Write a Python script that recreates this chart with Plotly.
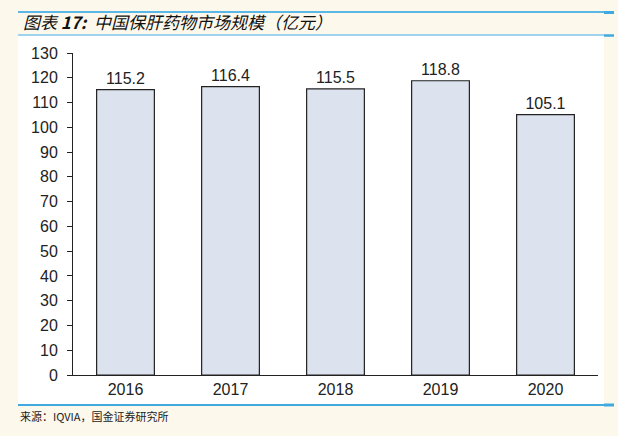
import plotly.graph_objects as go

years = ["2016", "2017", "2018", "2019", "2020"]
values = [115.2, 116.4, 115.5, 118.8, 105.1]
y_ticks = list(range(0, 131, 10))

W, H = 618, 436
L, R, T, B = 73, 20, 53, 61
PW, PH = W - L - R, H - T - B

fig = go.Figure()
fig.add_trace(go.Bar(
    x=years, y=values, width=0.55,
    marker=dict(color="#DCE2EE", line=dict(color="#222222", width=1.2)),
    text=[f"{v:.1f}" for v in values], textposition="outside",
    textfont=dict(family="Liberation Sans, Arial", size=16, color="#222222"),
    cliponaxis=False, hoverinfo="skip",
))

def px(x):
    return (x - L) / PW
def py(y):
    return (H - B - y) / PH

shapes = [
    dict(type="rect", xref="paper", yref="paper", x0=px(18), x1=px(604), y0=py(405), y1=py(36),
         fillcolor="white", line=dict(width=0), layer="below"),
    dict(type="line", xref="paper", yref="paper", x0=px(18), x1=px(604), y0=py(12), y1=py(12),
         line=dict(color="#5BB8E6", width=2)),
    dict(type="line", xref="paper", yref="paper", x0=px(604), x1=px(614), y0=py(12.5), y1=py(12.5),
         line=dict(color="#3FA9E0", width=3)),
    dict(type="line", xref="paper", yref="paper", x0=px(18), x1=px(604), y0=py(35), y1=py(35),
         line=dict(color="#7CC7EC", width=1.5)),
    dict(type="line", xref="paper", yref="paper", x0=px(604), x1=px(614), y0=py(35.5), y1=py(35.5),
         line=dict(color="#3FA9E0", width=2.5)),
    dict(type="line", xref="paper", yref="paper", x0=px(18), x1=px(604), y0=py(405), y1=py(405),
         line=dict(color="#3FA9E0", width=2)),
    dict(type="line", xref="paper", yref="paper", x0=px(604), x1=px(614), y0=py(405), y1=py(405),
         line=dict(color="#3FA9E0", width=3)),
]

fig.update_layout(
    width=W, height=H,
    margin=dict(l=L, r=R, t=T, b=B, autoexpand=False),
    paper_bgcolor="#FDF8EC", plot_bgcolor="rgba(0,0,0,0)",
    showlegend=False, bargap=0.45,
    shapes=shapes,
    xaxis=dict(
        type="category", showline=True, linecolor="#222222", linewidth=1,
        ticks="", showgrid=False,
        tickfont=dict(family="Liberation Sans, Arial", size=16, color="#222222"),
    ),
    yaxis=dict(
        range=[0, 130], tickvals=y_ticks, showline=True, linecolor="#222222", linewidth=1,
        ticks="outside", ticklen=5, tickcolor="#222222", showgrid=False, zeroline=False,
        ticklabelstandoff=6,
        tickfont=dict(family="Liberation Sans, Arial", size=16, color="#222222"),
    ),
    annotations=[
        dict(xref="paper", yref="paper", x=px(21), y=py(22), xanchor="left", yanchor="middle",
             text="<i>图表 <b>17:</b>&nbsp;&nbsp;中国保肝药物市场规模（亿元）</i>", showarrow=False,
             font=dict(family="Noto Sans CJK SC", size=17, color="#111111")),
        dict(xref="paper", yref="paper", x=px(18), y=py(416), xanchor="left", yanchor="middle",
             text="来源：IQVIA，国金证券研究所", showarrow=False,
             font=dict(family="Noto Sans CJK SC", size=11, color="#222222")),
    ],
)

fig.write_html(
    "out.html",
    config={"displayModeBar": False},
    post_script="document.body.style.margin='0';document.body.style.overflow='hidden';document.body.style.background='#FDF8EC';",
)
